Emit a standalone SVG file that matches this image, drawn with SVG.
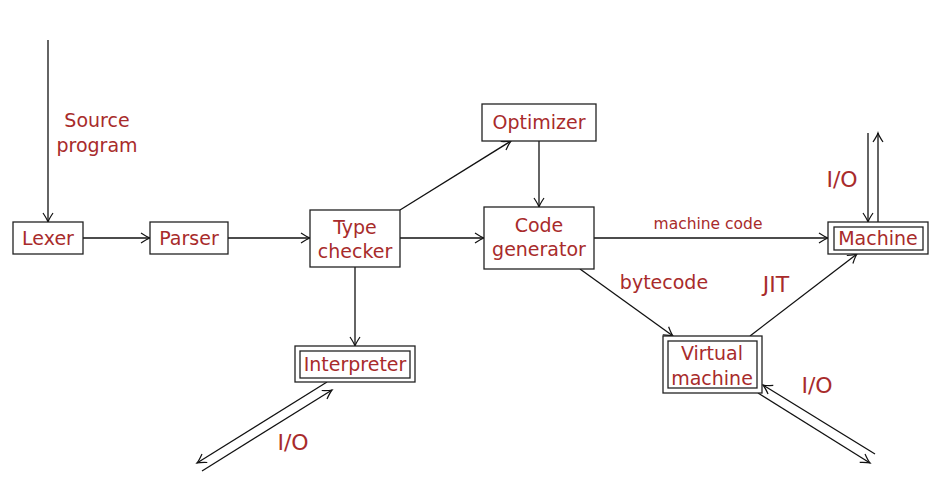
<svg xmlns="http://www.w3.org/2000/svg" width="939" height="486" viewBox="0 0 939 486">
<defs>
<style>
.box{fill:#fff;stroke:#222;stroke-width:1.3}
.t{font-family:"DejaVu Sans","Open Sans",sans-serif;font-size:19px;fill:#a82b2b;text-anchor:middle}
.s{font-size:15.5px}
.b{font-size:22px}
.c{stroke:#111;stroke-width:1.3;fill:none;marker-end:url(#ah)}
</style>
<marker id="ah" markerWidth="12" markerHeight="12" viewBox="-10 -6 12 12" refX="0" refY="0" orient="auto" markerUnits="userSpaceOnUse">
<path d="M-9,-5 Q-3,-1 0,0 Q-3,1 -9,5" fill="none" stroke="#111" stroke-width="1.2"/>
</marker>
</defs>
<rect width="939" height="486" fill="#fff"/>
<g id="connectors">
<line class="c" x1="48" y1="40" x2="48" y2="222"/>
<line class="c" x1="83" y1="238" x2="150" y2="238"/>
<line class="c" x1="228" y1="238" x2="310" y2="238"/>
<line class="c" x1="400" y1="238" x2="484" y2="238"/>
<line class="c" x1="400" y1="210" x2="511" y2="141"/>
<line class="c" x1="539" y1="141" x2="539" y2="207"/>
<line class="c" x1="355" y1="267" x2="355" y2="346"/>
<line class="c" x1="594" y1="238" x2="828" y2="238"/>
<line class="c" x1="580" y1="269" x2="673" y2="336"/>
<line class="c" x1="750" y1="336" x2="857" y2="254"/>
<line class="c" x1="868" y1="133" x2="868" y2="222"/>
<line class="c" x1="878" y1="222" x2="878" y2="133"/>
<line class="c" x1="327" y1="382" x2="197" y2="463"/>
<line class="c" x1="202" y1="471" x2="332" y2="390"/>
<line class="c" x1="875" y1="454" x2="763" y2="385"/>
<line class="c" x1="758" y1="393" x2="870" y2="463"/>
</g>
<g id="labels">
<text class="t" x="97" y="127">Source</text>
<text class="t" x="97" y="152">program</text>
<text class="t s" x="708" y="229">machine code</text>
<text class="t" x="664" y="289">bytecode</text>
<text class="t b" x="776" y="292">JIT</text>
<text class="t b" x="842" y="187">I/O</text>
<text class="t b" x="293" y="450">I/O</text>
<text class="t b" x="817" y="393">I/O</text>
</g>
<g id="lexer">
<rect class="box" x="13" y="222" width="70" height="32"/>
<text class="t" x="48" y="245">Lexer</text>
</g>
<g id="parser">
<rect class="box" x="150" y="222" width="78" height="32"/>
<text class="t" x="189" y="245">Parser</text>
</g>
<g id="typechecker">
<rect class="box" x="310" y="210" width="90" height="57"/>
<text class="t" x="355" y="234">Type</text>
<text class="t" x="355" y="258">checker</text>
</g>
<g id="optimizer">
<rect class="box" x="482" y="104" width="114" height="37"/>
<text class="t" x="539" y="129">Optimizer</text>
</g>
<g id="codegen">
<rect class="box" x="484" y="207" width="110" height="62"/>
<text class="t" x="539" y="232">Code</text>
<text class="t" x="539" y="256">generator</text>
</g>
<g id="machine">
<rect class="box" x="828" y="222" width="100" height="32"/>
<rect class="box" x="834" y="227" width="89" height="23"/>
<text class="t" x="878" y="245">Machine</text>
</g>
<g id="interpreter">
<rect class="box" x="295" y="346" width="120" height="36"/>
<rect class="box" x="300" y="351" width="110" height="27"/>
<text class="t" x="355" y="371">Interpreter</text>
</g>
<g id="vm">
<rect class="box" x="663" y="336" width="99" height="57"/>
<rect class="box" x="668" y="341" width="89" height="47"/>
<text class="t" x="712" y="360">Virtual</text>
<text class="t" x="712" y="385">machine</text>
</g>
</svg>
